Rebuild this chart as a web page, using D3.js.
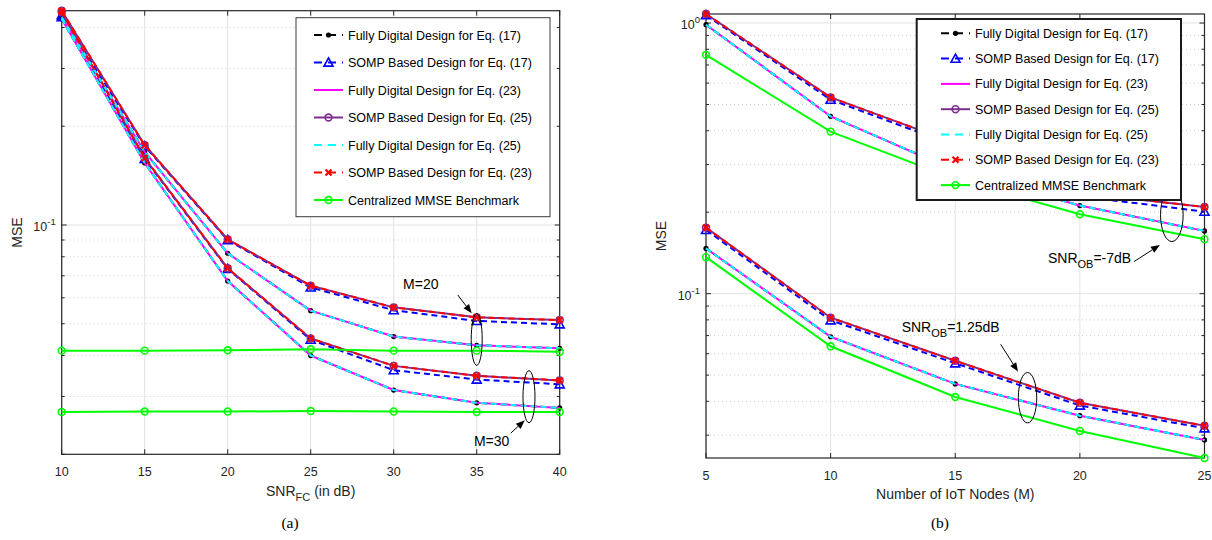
<!DOCTYPE html>
<html>
<head>
<meta charset="utf-8">
<script src="https://cdn.jsdelivr.net/npm/d3@7"></script>
<style>
  body { margin: 0; background: #fff; }
  svg { display: block; font-family: "Liberation Sans", Arial, sans-serif; }
</style>
</head>
<body>
<svg id="chart" width="1212" height="540"></svg>
<script>
// ---- data: panel (a), MSE vs SNR_FC ----
const snrFC = [10, 15, 20, 25, 30, 35, 40];
// M = 20
const fd17_M20   = [0.430, 0.167, 0.0820, 0.0548, 0.0457, 0.0430, 0.0421];
const somp17_M20 = [0.436, 0.174, 0.0900, 0.0645, 0.0550, 0.0510, 0.0498];
const fd23_M20   = [0.430, 0.167, 0.0820, 0.0548, 0.0457, 0.0430, 0.0421];
const somp25_M20 = [0.450, 0.175, 0.0904, 0.0653, 0.0561, 0.0523, 0.0513];
const fd25_M20   = [0.430, 0.167, 0.0820, 0.0548, 0.0457, 0.0430, 0.0421];
const somp23_M20 = [0.450, 0.175, 0.0904, 0.0653, 0.0561, 0.0523, 0.0513];
const mmse_M20   = [0.0414, 0.0414, 0.0415, 0.0418, 0.0414, 0.0414, 0.0411];
// M = 30
const fd17_M30   = [0.425, 0.1545, 0.0675, 0.0400, 0.0314, 0.0287, 0.0277];
const somp17_M30 = [0.430, 0.159, 0.0735, 0.0447, 0.0361, 0.0338, 0.0327];
const fd23_M30   = [0.425, 0.1545, 0.0675, 0.0400, 0.0314, 0.0287, 0.0277];
const somp25_M30 = [0.445, 0.160, 0.0738, 0.0451, 0.0372, 0.0347, 0.0336];
const fd25_M30   = [0.425, 0.1545, 0.0675, 0.0400, 0.0314, 0.0287, 0.0277];
const somp23_M30 = [0.445, 0.160, 0.0738, 0.0451, 0.0372, 0.0347, 0.0336];
const mmse_M30   = [0.0269, 0.0270, 0.0270, 0.0271, 0.0270, 0.0269, 0.0269];

// ---- data: panel (b), MSE vs number of IoT nodes ----
const iotNodes = [5, 10, 15, 20, 25];
// SNR_OB = -7 dB
const fd17_lo   = [0.986, 0.452, 0.285, 0.2116, 0.1706];
const somp17_lo = [1.070, 0.521, 0.352, 0.229, 0.201];
const fd23_lo   = [0.986, 0.452, 0.285, 0.2116, 0.1706];
const somp25_lo = [1.080, 0.531, 0.360, 0.236, 0.209];
const fd25_lo   = [0.986, 0.452, 0.285, 0.2116, 0.1706];
const somp23_lo = [1.080, 0.531, 0.360, 0.236, 0.209];
const mmse_lo   = [0.763, 0.397, 0.265, 0.1966, 0.159];
// SNR_OB = 1.25 dB
const fd17_hi   = [0.147, 0.0693, 0.0464, 0.0354, 0.0288];
const somp17_hi = [0.172, 0.0797, 0.0553, 0.0386, 0.0318];
const fd23_hi   = [0.147, 0.0693, 0.0464, 0.0354, 0.0288];
const somp25_hi = [0.1754, 0.0815, 0.0565, 0.0395, 0.0325];
const fd25_hi   = [0.147, 0.0693, 0.0464, 0.0354, 0.0288];
const somp23_hi = [0.1754, 0.0815, 0.0565, 0.0395, 0.0325];
const mmse_hi   = [0.1364, 0.0639, 0.0415, 0.0311, 0.0247];

const seriesNames = [
  "Fully Digital Design for Eq. (17)",
  "SOMP Based Design for Eq. (17)",
  "Fully Digital Design for Eq. (23)",
  "SOMP Based Design for Eq. (25)",
  "Fully Digital Design for Eq. (25)",
  "SOMP Based Design for Eq. (23)",
  "Centralized MMSE Benchmark"
];

// line styles, same order as the legend (MATLAB draws later ones on top)
const styles = [
  { color: "#000000", dash: "6,4", marker: "dot" },
  { color: "#0000ff", dash: "6,4", marker: "triangle" },
  { color: "#ff00ff", dash: null,  marker: null },
  { color: "#7e2f8e", dash: null,  marker: "circle" },
  { color: "#00ffff", dash: "6,4", marker: null },
  { color: "#ff0000", dash: "6,4", marker: "x" },
  { color: "#00ff00", dash: null,  marker: "circle" }
];

const svg = d3.select("#chart");
const AX = "#262626";

function drawMarker(g, kind, cx, cy, color) {
  if (kind === "dot") {
    g.append("circle").attr("cx", cx).attr("cy", cy).attr("r", 2.6).attr("fill", color);
  } else if (kind === "triangle") {
    const s = 4.5;
    g.append("path")
      .attr("d", `M${cx},${cy - s} L${cx + s},${cy + s * 0.8} L${cx - s},${cy + s * 0.8} Z`)
      .attr("fill", "none").attr("stroke", color).attr("stroke-width", 1.6);
  } else if (kind === "circle") {
    g.append("circle").attr("cx", cx).attr("cy", cy).attr("r", 3.4)
      .attr("fill", "none").attr("stroke", color).attr("stroke-width", 1.6);
  } else if (kind === "x") {
    const s = 3;
    g.append("path")
      .attr("d", `M${cx - s},${cy - s} L${cx + s},${cy + s} M${cx - s},${cy + s} L${cx + s},${cy - s}`)
      .attr("stroke", color).attr("stroke-width", 2.2);
  }
}

function supLabel(sel, base, sup) {
  sel.append("tspan").text(base);
  sel.append("tspan").attr("dy", -6).attr("font-size", "9.5px").text(sup);
}

function drawPanel(p) {
  const x = d3.scaleLinear().domain(p.xDomain).range([p.left, p.right]);
  const y = d3.scaleLog().domain(p.yDomain).range([p.bottom, p.top]);
  const g = svg.append("g");

  // log ticks
  const [y0, y1] = p.yDomain;
  const majors = [], minors = [];
  for (let e = Math.floor(Math.log10(y0)); e <= Math.ceil(Math.log10(y1)); e++) {
    const b = Math.pow(10, e);
    if (b >= y0 * 0.999 && b <= y1 * 1.001) majors.push(b);
    for (let m = 2; m <= 9; m++) {
      const v = m * b;
      if (v >= y0 * 0.999 && v <= y1 * 1.001) minors.push(v);
    }
  }

  // grid
  g.selectAll(".xg").data(p.xTicks).enter().append("line")
    .attr("x1", d => x(d)).attr("x2", d => x(d))
    .attr("y1", p.top).attr("y2", p.bottom)
    .attr("stroke", "#e3e3e3").attr("stroke-width", 1);
  g.selectAll(".ymg").data(minors).enter().append("line")
    .attr("x1", p.left).attr("x2", p.right)
    .attr("y1", d => y(d)).attr("y2", d => y(d))
    .attr("stroke", "#cfcfcf").attr("stroke-width", 1).attr("stroke-dasharray", "1,3");
  g.selectAll(".yg").data(majors).enter().append("line")
    .attr("x1", p.left).attr("x2", p.right)
    .attr("y1", d => y(d)).attr("y2", d => y(d))
    .attr("stroke", "#e3e3e3").attr("stroke-width", 1);

  // box
  g.append("rect")
    .attr("x", p.left).attr("y", p.top)
    .attr("width", p.right - p.left).attr("height", p.bottom - p.top)
    .attr("fill", "none").attr("stroke", AX).attr("stroke-width", 1.2);

  // ticks (inward, all four sides)
  p.xTicks.forEach(t => {
    g.append("line").attr("x1", x(t)).attr("x2", x(t)).attr("y1", p.bottom).attr("y2", p.bottom - 5).attr("stroke", AX);
    g.append("line").attr("x1", x(t)).attr("x2", x(t)).attr("y1", p.top).attr("y2", p.top + 5).attr("stroke", AX);
    g.append("text").attr("x", x(t)).attr("y", p.bottom + 22)
      .attr("text-anchor", "middle").attr("font-size", "12.5px").attr("fill", AX).text(t);
  });
  majors.forEach(t => {
    g.append("line").attr("x1", p.left).attr("x2", p.left + 5).attr("y1", y(t)).attr("y2", y(t)).attr("stroke", AX);
    g.append("line").attr("x1", p.right).attr("x2", p.right - 5).attr("y1", y(t)).attr("y2", y(t)).attr("stroke", AX);
    const lbl = g.append("text").attr("x", p.left - 6).attr("y", y(t) + 6)
      .attr("text-anchor", "end").attr("font-size", "12.5px").attr("fill", AX);
    supLabel(lbl, "10", String(Math.round(Math.log10(t))));
  });
  minors.forEach(t => {
    g.append("line").attr("x1", p.left).attr("x2", p.left + 3).attr("y1", y(t)).attr("y2", y(t)).attr("stroke", AX);
    g.append("line").attr("x1", p.right).attr("x2", p.right - 3).attr("y1", y(t)).attr("y2", y(t)).attr("stroke", AX);
  });

  // axis labels
  g.append("text")
    .attr("transform", `translate(${p.yLabelX},${(p.top + p.bottom) / 2}) rotate(-90)`)
    .attr("text-anchor", "middle").attr("font-size", "14px").attr("fill", AX).text("MSE");
  p.xLabel(g.append("text")
    .attr("x", (p.left + p.right) / 2).attr("y", p.xLabelY)
    .attr("text-anchor", "middle").attr("font-size", "14px").attr("fill", AX));

  // series lines, drawn in legend order
  const line = d3.line().x(d => x(d[0])).y(d => y(d[1]));
  styles.forEach((st, si) => {
    p.groups.forEach(grp => {
      const pts = p.xs.map((xv, i) => [xv, grp[si][i]]);
      g.append("path").attr("d", line(pts))
        .attr("fill", "none").attr("stroke", st.color).attr("stroke-width", 2)
        .attr("stroke-dasharray", st.dash);
      if (st.marker) pts.forEach(d => drawMarker(g, st.marker, x(d[0]), y(d[1]), st.color));
    });
  });

  // annotations (ellipses / arrows / labels in data coords)
  p.ellipses.forEach(e => {
    g.append("ellipse").attr("cx", x(e.x)).attr("cy", y(e.y)).attr("rx", e.rx).attr("ry", e.ry)
      .attr("fill", "none").attr("stroke", "#000").attr("stroke-width", 1);
  });
  p.arrows.forEach(a => {
    const x1 = x(a.from[0]), y1 = y(a.from[1]), x2 = x(a.to[0]), y2 = y(a.to[1]);
    const ang = Math.atan2(y2 - y1, x2 - x1), L = 9, W = 3.5;
    const bx = x2 - L * Math.cos(ang), by = y2 - L * Math.sin(ang);
    g.append("line").attr("x1", x1).attr("y1", y1).attr("x2", bx).attr("y2", by)
      .attr("stroke", "#000").attr("stroke-width", 1);
    g.append("path")
      .attr("d", `M${x2},${y2} L${bx - W * Math.sin(ang)},${by + W * Math.cos(ang)} L${bx + W * Math.sin(ang)},${by - W * Math.cos(ang)} Z`)
      .attr("fill", "#000");
  });
  p.labels.forEach(l => {
    const t = g.append("text").attr("x", x(l.x)).attr("y", y(l.y))
      .attr("text-anchor", l.anchor).attr("font-size", "14px").attr("fill", "#000");
    if (l.sub) {
      t.append("tspan").text(l.text);
      t.append("tspan").attr("dy", 5).attr("font-size", "11px").text(l.sub);
      t.append("tspan").attr("dy", -5).text(l.rest);
    } else {
      t.text(l.text);
    }
  });

  // legend
  const lg = p.legend;
  g.append("rect").attr("x", lg.x).attr("y", lg.y).attr("width", lg.w).attr("height", lg.h)
    .attr("fill", "#fff").attr("stroke", lg.stroke).attr("stroke-width", lg.sw);
  seriesNames.forEach((name, i) => {
    const st = styles[i];
    const yy = lg.row0 + i * lg.step;
    g.append("line").attr("x1", lg.lx).attr("x2", lg.lx + 29).attr("y1", yy).attr("y2", yy)
      .attr("stroke", st.color).attr("stroke-width", 2).attr("stroke-dasharray", st.dash ? "8,6" : null);
    if (st.marker) drawMarker(g, st.marker, lg.lx + 14.5, yy, st.color);
    g.append("text").attr("x", lg.lx + 34).attr("y", yy + 4.5)
      .attr("font-size", "12.5px").attr("fill", "#000").text(name);
  });
}

// panel (a)
drawPanel({
  left: 61.7, right: 559.7, top: 10.7, bottom: 454.3,
  xDomain: [10, 40], yDomain: [0.02, 0.45],
  xTicks: snrFC, xs: snrFC,
  yLabelX: 22, xLabelY: 496,
  xLabel: t => {
    t.append("tspan").text("SNR");
    t.append("tspan").attr("dy", 5).attr("font-size", "11px").text("FC");
    t.append("tspan").attr("dy", -5).text(" (in dB)");
  },
  groups: [
    [fd17_M20, somp17_M20, fd23_M20, somp25_M20, fd25_M20, somp23_M20, mmse_M20],
    [fd17_M30, somp17_M30, fd23_M30, somp25_M30, fd25_M30, somp23_M30, mmse_M30]
  ],
  ellipses: [
    { x: 35, y: 0.0448, rx: 5.5, ry: 26 },
    { x: 38.15, y: 0.02996, rx: 6, ry: 26 }
  ],
  arrows: [
    { from: [33.86, 0.0612], to: [34.7, 0.0538] },
    { from: [37.05, 0.0232], to: [37.9, 0.0254] }
  ],
  labels: [
    { x: 31.63, y: 0.0638, text: "M=20", anchor: "middle" },
    { x: 35.9, y: 0.0212, text: "M=30", anchor: "middle" }
  ],
  legend: { x: 296, y: 17.7, w: 254, h: 199, stroke: "#3a3a3a", sw: 1, row0: 35, step: 27.5, lx: 314 }
});

// panel (b)
drawPanel({
  left: 706, right: 1204.5, top: 14, bottom: 458,
  xDomain: [5, 25], yDomain: [0.0247, 1.08],
  xTicks: iotNodes, xs: iotNodes,
  yLabelX: 666, xLabelY: 499,
  xLabel: t => t.text("Number of IoT Nodes (M)"),
  groups: [
    [fd17_lo, somp17_lo, fd23_lo, somp25_lo, fd25_lo, somp23_lo, mmse_lo],
    [fd17_hi, somp17_hi, fd23_hi, somp25_hi, fd25_hi, somp23_hi, mmse_hi]
  ],
  ellipses: [
    { x: 23.69, y: 0.1955, rx: 11.3, ry: 26.7 },
    { x: 17.9, y: 0.04125, rx: 9.2, ry: 25.2 }
  ],
  arrows: [
    { from: [22.17, 0.1313], to: [23.21, 0.1514] },
    { from: [16.82, 0.065], to: [17.52, 0.0515] }
  ],
  labels: [
    { x: 18.72, y: 0.1297, text: "SNR", sub: "OB", rest: "=-7dB", anchor: "start" },
    { x: 12.85, y: 0.0724, text: "SNR", sub: "OB", rest: "=1.25dB", anchor: "start" }
  ],
  legend: { x: 916.7, y: 19, w: 264.3, h: 181, stroke: "#1a1a1a", sw: 2, row0: 33.3, step: 25.3, lx: 941 }
});

// captions
svg.append("text").attr("x", 290).attr("y", 528).attr("text-anchor", "middle")
  .attr("font-family", "'Liberation Serif', 'Times New Roman', serif").attr("font-size", "15.5px").text("(a)");
svg.append("text").attr("x", 940).attr("y", 528).attr("text-anchor", "middle")
  .attr("font-family", "'Liberation Serif', 'Times New Roman', serif").attr("font-size", "15.5px").text("(b)");
</script>
</body>
</html>
